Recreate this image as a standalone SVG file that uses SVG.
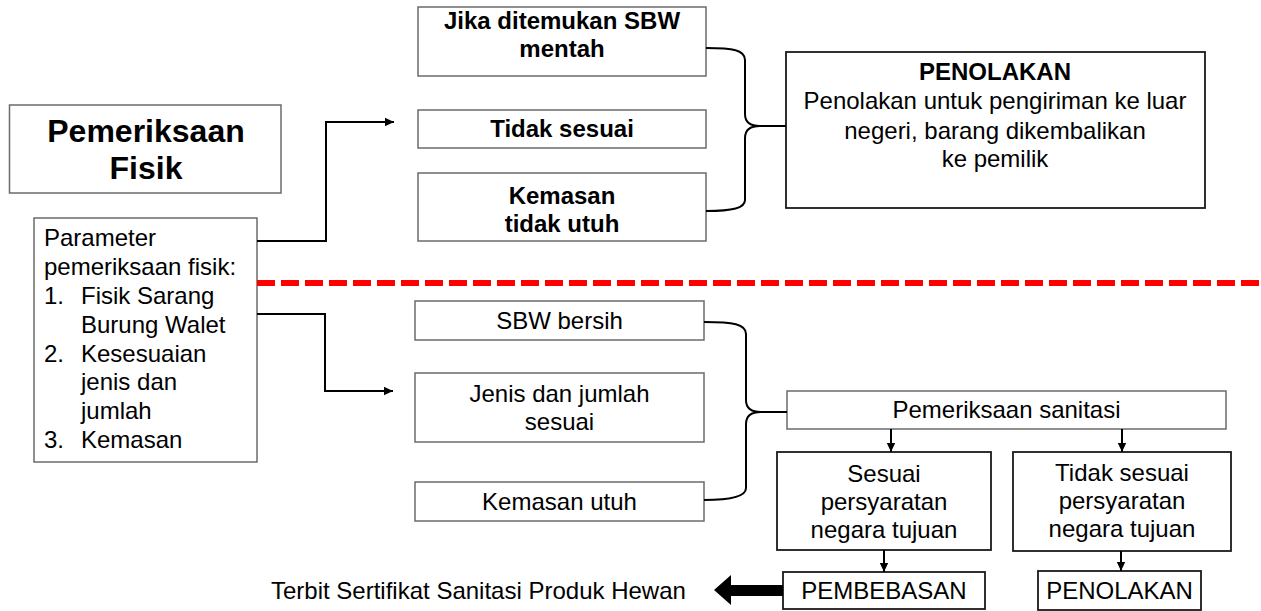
<svg xmlns="http://www.w3.org/2000/svg" width="1261" height="611" viewBox="0 0 1261 611">
<defs>
<style>
text{font-family:"Liberation Sans",Arial,sans-serif;font-size:24px;fill:#000}
.b{font-weight:bold}
.t{font-size:32px;font-weight:bold}
.c{text-anchor:middle}
.g{fill:#fff;stroke:#6b6b6b;stroke-width:1.5}
.k{fill:#fff;stroke:#1a1a1a;stroke-width:1.8}
.ln{fill:none;stroke:#000;stroke-width:2}
</style>
<marker id="ah" markerUnits="userSpaceOnUse" markerWidth="10" markerHeight="10" refX="9" refY="5" orient="auto">
<path d="M0,0.8 L9,5 L0,9.2 Z" fill="#000"/>
</marker>
</defs>
<rect width="1261" height="611" fill="#fff"/>

<g id="title">
<rect class="g" x="9.5" y="105" width="271.5" height="88"/>
<text class="t c" x="146" y="142">Pemeriksaan</text>
<text class="t c" x="146" y="179">Fisik</text>
</g>

<g id="parameter">
<rect class="g" x="34" y="218" width="223" height="244"/>
<text x="44" y="246">Parameter</text>
<text x="44" y="275">pemeriksaan fisik:</text>
<text x="44" y="304">1.</text><text x="81" y="304">Fisik Sarang</text>
<text x="81" y="333">Burung Walet</text>
<text x="44" y="362">2.</text><text x="81" y="362">Kesesuaian</text>
<text x="81" y="390">jenis dan</text>
<text x="81" y="419">jumlah</text>
<text x="44" y="448">3.</text><text x="81" y="448">Kemasan</text>
</g>

<g id="sbw-mentah">
<rect class="g" x="418" y="7" width="288" height="69"/>
<text class="b c" x="562" y="29">Jika ditemukan SBW</text>
<text class="b c" x="562" y="57">mentah</text>
</g>
<g id="tidak-sesuai">
<rect class="g" x="418" y="110" width="288" height="38"/>
<text class="b c" x="562" y="137">Tidak sesuai</text>
</g>
<g id="kemasan-tidak-utuh">
<rect class="g" x="418" y="173" width="288" height="68"/>
<text class="b c" x="562" y="204">Kemasan</text>
<text class="b c" x="562" y="232">tidak utuh</text>
</g>

<g id="penolakan-top">
<rect class="k" x="786" y="52" width="419" height="156"/>
<text class="b c" x="995" y="80">PENOLAKAN</text>
<text class="c" x="995" y="109">Penolakan untuk pengiriman ke luar</text>
<text class="c" x="995" y="139">negeri, barang dikembalikan</text>
<text class="c" x="995" y="167">ke pemilik</text>
</g>

<g id="sbw-bersih">
<rect class="g" x="415" y="301" width="289" height="39"/>
<text class="c" x="559.5" y="329">SBW bersih</text>
</g>
<g id="jenis-jumlah">
<rect class="g" x="415" y="373" width="289" height="69"/>
<text class="c" x="559.5" y="402">Jenis dan jumlah</text>
<text class="c" x="559.5" y="430">sesuai</text>
</g>
<g id="kemasan-utuh">
<rect class="g" x="415" y="482" width="289" height="39"/>
<text class="c" x="559.5" y="510">Kemasan utuh</text>
</g>

<g id="pemeriksaan-sanitasi">
<rect class="g" x="787" y="391" width="439" height="38"/>
<text class="c" x="1006.5" y="418">Pemeriksaan sanitasi</text>
</g>
<g id="sesuai">
<rect class="k" x="777" y="452" width="214" height="98"/>
<text class="c" x="884" y="482">Sesuai</text>
<text class="c" x="884" y="510">persyaratan</text>
<text class="c" x="884" y="538">negara tujuan</text>
</g>
<g id="tidak-sesuai-persyaratan">
<rect class="k" x="1013" y="452" width="218" height="99"/>
<text class="c" x="1122" y="481">Tidak sesuai</text>
<text class="c" x="1122" y="509">persyaratan</text>
<text class="c" x="1122" y="537">negara tujuan</text>
</g>
<g id="pembebasan">
<rect class="k" x="783" y="572" width="202" height="37"/>
<text class="c" x="884" y="599">PEMBEBASAN</text>
</g>
<g id="penolakan-bottom">
<rect class="k" x="1038" y="571" width="163" height="39"/>
<text class="c" x="1119.5" y="599">PENOLAKAN</text>
</g>
<g id="sertifikat">
<text x="271" y="599">Terbit Sertifikat Sanitasi Produk Hewan</text>
</g>

<g id="connectors">
<line x1="257" y1="283" x2="1261" y2="283" stroke="#ff0000" stroke-width="6" stroke-dasharray="18 6"/>
<path class="ln" d="M257,241 H326 V122 H394" marker-end="url(#ah)"/>
<path class="ln" d="M257,314 H325 V391 H393" marker-end="url(#ah)"/>
<path class="ln" d="M706,48 C733,48 745,50 745,60 L745,114 C745,122 750,126 760,126 L786,126 M760,126 C750,126 745,130 745,138 L745,200 C745,208 733,211 706,211"/>
<path class="ln" d="M704,322 C733,322 746,324 746,334 L746,400 C746,408 751,412 761,412 L787,412 M761,412 C751,412 746,416 746,424 L746,488 C746,496 733,500 704,500"/>
<path class="ln" d="M891,429 V452" marker-end="url(#ah)"/>
<path class="ln" d="M1122,429 V452" marker-end="url(#ah)"/>
<path class="ln" d="M884,550 V572" marker-end="url(#ah)"/>
<path class="ln" d="M1121,551 V571" marker-end="url(#ah)"/>
<polygon points="714,590 731,575 731,585 783,585 783,596 731,596 731,605" fill="#000"/>
</g>
</svg>
